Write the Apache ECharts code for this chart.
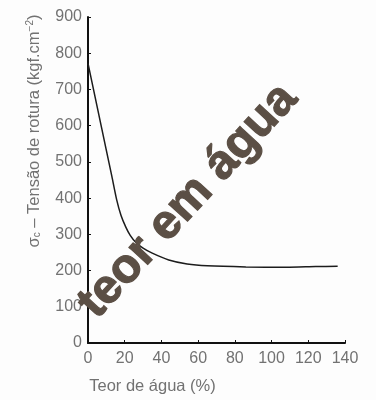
<!DOCTYPE html>
<html>
<head>
<meta charset="utf-8">
<script src="https://cdn.jsdelivr.net/npm/echarts@6/dist/echarts.min.js"></script>
<style>
html,body{margin:0;padding:0;background:#fdfdfd;}
#c{width:376px;height:400px;}
</style>
</head>
<body>
<div id="c"></div>
<script>
// Data
var waterContent = [0, 5, 10, 13, 15.6, 18, 20.6, 23, 26, 30, 35, 44, 54, 65, 86, 108, 124, 136];
var ruptureStress = [772, 652, 532, 460, 396, 352, 320, 297, 278, 262, 248, 229, 218, 213, 210, 209, 211, 212];
var xTicks = [0, 20, 40, 60, 80, 100, 120, 140];
var yTicks = [0, 100, 200, 300, 400, 500, 600, 700, 800, 900];
var xTitle = 'Teor de água (%)';
var watermark = 'teor em água';

var points = waterContent.map(function (x, i) { return [x, ruptureStress[i]]; });
var font = 'Liberation Sans, Arial, Helvetica, sans-serif';
var gray = '#727272';

var chart = echarts.init(document.getElementById('c'));
chart.setOption({
  backgroundColor: '#fdfdfd',
  animation: false,
  grid: { left: 88, right: 31, top: 17, bottom: 57 },
  xAxis: {
    type: 'value',
    min: xTicks[0],
    max: xTicks[xTicks.length - 1],
    interval: xTicks[1] - xTicks[0],
    name: xTitle,
    nameLocation: 'middle',
    nameGap: 35,
    nameTextStyle: { color: gray, fontSize: 16.5, fontFamily: font, padding: [0, 128, 0, 0] },
    axisLine: { lineStyle: { color: '#111', width: 2 } },
    axisTick: { inside: true, length: 3, lineStyle: { color: '#111', width: 1 } },
    axisLabel: { color: gray, fontSize: 16, fontFamily: font, margin: 8 },
    splitLine: { show: false }
  },
  yAxis: {
    type: 'value',
    min: yTicks[0],
    max: yTicks[yTicks.length - 1],
    interval: yTicks[1] - yTicks[0],
    name: '{n|σ}{s|c}{n| – Tensão de rotura (kgf.cm}{p|−2}{n|)}',
    nameLocation: 'middle',
    nameGap: 45,
    nameRotate: 90,
    nameTextStyle: {
      color: gray, fontSize: 16.5, fontFamily: font, padding: [0, 0, 0, 98],
      rich: {
        n: { color: gray, fontSize: 16.5, fontFamily: font },
        s: { color: gray, fontSize: 10, fontFamily: font, padding: [7, 0, 0, 0] },
        p: { color: gray, fontSize: 10, fontFamily: font, padding: [0, 0, 8, 0] }
      }
    },
    axisLine: { show: true, lineStyle: { color: '#111', width: 2 } },
    axisTick: { show: true, inside: true, length: 3, lineStyle: { color: '#111', width: 1 } },
    axisLabel: { color: gray, fontSize: 16, fontFamily: font, margin: 6 },
    splitLine: { show: false }
  },
  series: [{
    type: 'line',
    data: points,
    smooth: 0.25,
    symbol: 'none',
    lineStyle: { color: '#1c1c1c', width: 1.5 }
  }],
  graphic: [{
    type: 'text',
    x: 188,
    y: 201,
    rotation: 47.5 * Math.PI / 180,
    z: 100,
    style: {
      text: watermark,
      font: 'bold 48px Liberation Sans, Arial, sans-serif',
      fill: '#5b4f45',
      stroke: '#5b4f45',
      lineWidth: 1.2,
      align: 'center',
      verticalAlign: 'middle'
    }
  }]
});
</script>
</body>
</html>
